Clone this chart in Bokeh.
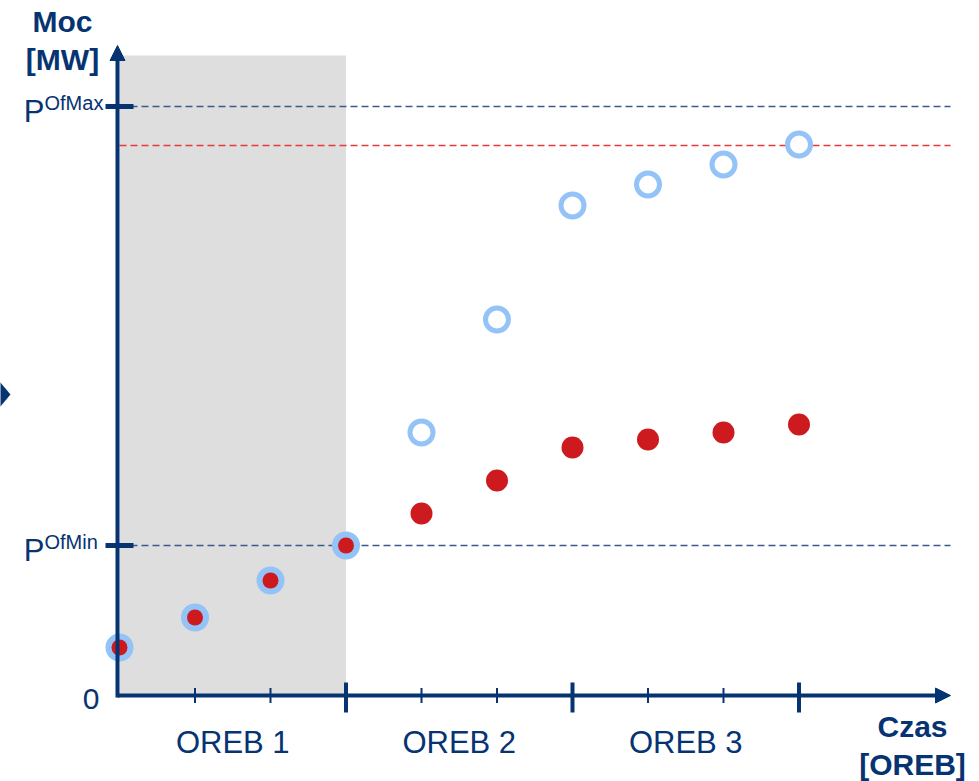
from bokeh.plotting import figure
from bokeh.models import Range1d, Arrow, NormalHead
from bokeh.core.properties import value
from bokeh.embed import file_html
from bokeh.resources import INLINE
import math

# ---------------- data ----------------
steps = [0, 1, 2, 3, 4, 5, 6, 7, 8, 9]
red_values = [9.6, 15.6, 23.0, 30.0, 36.4, 43.0, 49.6, 51.2, 52.6, 54.2]
blue_values = [9.6, 15.6, 23.0, 30.0, 52.6, 75.2, 98.0, 102.2, 106.2, 110.2]
oreb_labels = ["OREB 1", "OREB 2", "OREB 3"]
oreb_centers = [1.5, 4.5, 7.5]
oreb_bounds = [3, 6, 9]
minor_steps = [1, 2, 4, 5, 7, 8]
p_of_min = 30.0
p_of_max = 117.8
red_limit = 110.0
ytick_sup = ["OfMin", "OfMax"]
ytick_vals = [p_of_min, p_of_max]
shade_steps = 3          # first OREB is shaded
n_filled = 4             # first points where both series coincide

# ---------------- layout helpers (pixel -> data) ----------------
SX, OX = 75.5, 119
SY, OY = 5.0, 695
TSHIFT = 10  # baseline correction in px
def X(px):
    return (px - OX) / SX
def Y(py):
    return (OY - py) / SY
def YT(py):
    return Y(py - TSHIFT)

NAVY = "#063371"
BLUE = "#94C3F8"
RED = "#CC1A1F"
GRAY = "#DEDEDE"
FONT = value("Liberation Sans")

p = figure(width=979, height=781, x_range=Range1d(X(0), X(979)), y_range=Range1d(Y(781), Y(0)),
           output_backend="svg", toolbar_location=None, min_border=0)
p.axis.visible = False
p.grid.visible = False
p.outline_line_color = None
p.background_fill_color = "white"
p.border_fill_color = "white"

# shaded OREB 1
p.quad(left=[0], right=[shade_steps], bottom=[0], top=[Y(55)], fill_color=GRAY, line_color=None)

# dashed reference lines
p.segment(x0=[0, 0], x1=[X(950), X(950)], y0=ytick_vals, y1=ytick_vals,
          line_color="#3A5A8C", line_width=1.5, line_dash="7 4")
p.segment(x0=[0], x1=[X(950)], y0=[red_limit], y1=[red_limit],
          line_color="#E8383A", line_width=1.5, line_dash="7 4")

# axes with arrows
p.add_layout(Arrow(end=NormalHead(size=15, fill_color=NAVY, line_color=NAVY),
                   x_start=X(117), y_start=Y(697), x_end=X(117), y_end=Y(45),
                   line_color=NAVY, line_width=4))
p.add_layout(Arrow(end=NormalHead(size=15, fill_color=NAVY, line_color=NAVY),
                   x_start=X(117), y_start=0, x_end=X(950), y_end=0,
                   line_color=NAVY, line_width=4))

# ticks
p.scatter(x=oreb_bounds, y=[Y(697)] * len(oreb_bounds), marker="dash", angle=math.pi / 2,
          size=30, line_width=4, line_color=NAVY)
p.scatter(x=minor_steps, y=[0] * len(minor_steps), marker="dash", angle=math.pi / 2,
          size=15, line_width=2, line_color=NAVY)
p.scatter(x=[X(119)] * 2, y=ytick_vals, marker="dash", size=28, line_width=5, line_color=NAVY)

# points
p.scatter(x=steps[:n_filled], y=blue_values[:n_filled], size=28, fill_color=BLUE, line_color=None)
p.scatter(x=steps[n_filled:], y=blue_values[n_filled:], size=23, fill_color="white",
          line_color=BLUE, line_width=5)
p.scatter(x=steps[:n_filled], y=red_values[:n_filled], size=16, fill_color=RED, line_color=None)
p.scatter(x=steps[n_filled:], y=red_values[n_filled:], size=22, fill_color=RED, line_color=None)

# left chevron remnant
p.patch(x=[X(-1), X(10), X(-1)], y=[Y(381), Y(394), Y(407)], fill_color=NAVY, line_color=None)

# texts
p.text(x=oreb_centers, y=[YT(752)] * 3, text=oreb_labels, text_font=FONT, text_font_size="31px",
       text_color=NAVY, text_align="center", text_baseline="alphabetic")
p.text(x=[X(99)], y=[YT(708)], text=["0"], text_font=FONT, text_font_size="30px",
       text_color=NAVY, text_align="right", text_baseline="alphabetic")
p.text(x=[X(44)] * 2, y=[v - (15 - TSHIFT) / SY for v in ytick_vals], text=["P", "P"], text_font=FONT,
       text_font_size="31px", text_color=NAVY, text_align="right", text_baseline="alphabetic")
p.text(x=[X(44)] * 2, y=[v - (6 - TSHIFT) / SY for v in ytick_vals], text=ytick_sup, text_font=FONT,
       text_font_size="20px", text_color=NAVY, text_align="left", text_baseline="alphabetic")
p.text(x=[X(62)] * 2, y=[YT(31), YT(69)], text=["Moc", "[MW]"], text_font=FONT,
       text_font_size="30px", text_font_style="bold", text_color=NAVY,
       text_align="center", text_baseline="alphabetic")
p.text(x=[X(912)] * 2, y=[YT(736), YT(774)], text=["Czas", "[OREB]"], text_font=FONT,
       text_font_size="30px", text_font_style="bold", text_color=NAVY,
       text_align="center", text_baseline="alphabetic")

open("out.html", "w").write(file_html(p, INLINE))
